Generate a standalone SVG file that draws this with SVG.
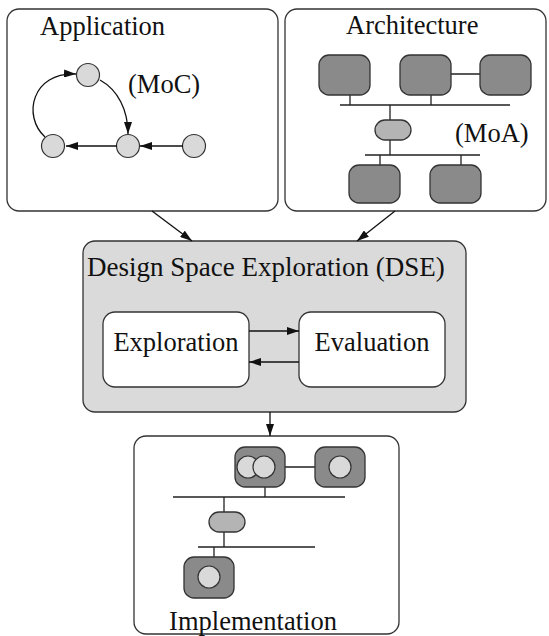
<svg xmlns="http://www.w3.org/2000/svg" width="549" height="636" viewBox="0 0 549 636">
  <style>
    .frame { fill: #ffffff; stroke: #333333; stroke-width: 1.3; }
    .dse { fill: #dadada; stroke: #333333; stroke-width: 1.3; }
    .inner { fill: #ffffff; stroke: #333333; stroke-width: 1.3; }
    .pe { fill: #8a8a8a; stroke: #333333; stroke-width: 1.3; }
    .bridge { fill: #b4b4b4; stroke: #333333; stroke-width: 1.3; }
    .task { fill: #d9d9d9; stroke: #333333; stroke-width: 1.2; }
    .wire { fill: none; stroke: #222222; stroke-width: 1.3; }
    .edge { fill: none; stroke: #111111; stroke-width: 1.3; marker-end: url(#head); }
    text { font-family: "Liberation Serif", "Times New Roman", serif; fill: #111111; font-size: 26.5px; }
    .title { font-size: 27px; }
  </style>
  <defs>
    <marker id="head" viewBox="0 0 12 8" refX="12" refY="4" markerWidth="12" markerHeight="8" markerUnits="userSpaceOnUse" orient="auto">
      <path d="M0,0 L12,4 L0,8 Z" fill="#111111"/>
    </marker>
  </defs>

  <!-- Application: model of computation -->
  <g id="application">
    <rect class="frame" x="7" y="9" width="271" height="202" rx="12"/>
    <text x="40" y="35">Application</text>
    <text x="128" y="93">(MoC)</text>
    <circle class="task" cx="88" cy="75" r="11.5"/>
    <circle class="task" cx="53" cy="146" r="11.5"/>
    <circle class="task" cx="128" cy="146" r="11.5"/>
    <circle class="task" cx="194" cy="146" r="11.5"/>
  </g>

  <!-- Architecture: model of architecture -->
  <g id="architecture">
    <rect class="frame" x="285" y="9" width="261" height="202" rx="12"/>
    <text x="346" y="34">Architecture</text>
    <text x="455" y="142">(MoA)</text>
    <path class="wire" d="M451,74 H480 M340,105 H510 M350,95 V105 M431,95 V105 M390,105 V120 M390,140 V155 M365,155 H480 M380,155 V165 M461,155 V170"/>
    <rect class="pe" x="319" y="55" width="51" height="40" rx="10"/>
    <rect class="pe" x="400" y="55" width="51" height="40" rx="10"/>
    <rect class="pe" x="480" y="55" width="51" height="40" rx="10"/>
    <rect class="bridge" x="375" y="120" width="36" height="20" rx="10"/>
    <rect class="pe" x="349" y="165" width="51" height="38" rx="10"/>
    <rect class="pe" x="430" y="165" width="51" height="38" rx="10"/>
  </g>

  <!-- Design space exploration -->
  <g id="dse">
    <rect class="dse" x="83" y="241" width="383" height="171" rx="12"/>
    <text class="title" x="87" y="276">Design Space Exploration (DSE)</text>
  </g>
  <g id="exploration">
    <rect class="inner" x="103" y="312" width="146" height="75" rx="12"/>
    <text x="176" y="351" text-anchor="middle">Exploration</text>
  </g>
  <g id="evaluation">
    <rect class="inner" x="299" y="312" width="146" height="75" rx="12"/>
    <text x="372" y="351" text-anchor="middle">Evaluation</text>
  </g>

  <!-- Implementation: mapped result -->
  <g id="implementation">
    <rect class="frame" x="134" y="436" width="265" height="198" rx="12"/>
    <text x="253" y="630" text-anchor="middle">Implementation</text>
    <path class="wire" d="M285,467 H315 M173,497 H345 M265,487 V497 M224,497 V512 M224,532 V547 M198,547 H315 M214,547 V557"/>
    <rect class="pe" x="235" y="447" width="50" height="40" rx="10"/>
    <circle class="task" cx="248" cy="467" r="11"/>
    <circle class="task" cx="264" cy="467" r="11"/>
    <rect class="pe" x="315" y="447" width="50" height="40" rx="10"/>
    <circle class="task" cx="340" cy="467" r="11"/>
    <rect class="bridge" x="209" y="512" width="36" height="20" rx="10"/>
    <rect class="pe" x="184" y="557" width="50" height="41" rx="10"/>
    <circle class="task" cx="209" cy="577" r="11"/>
  </g>

  <!-- Connectors -->
  <g id="connectors">
    <path class="edge" d="M183,146 H140"/>
    <path class="edge" d="M117,146 H66"/>
    <path class="edge" d="M45,137 C22,116 32,72 76,74"/>
    <path class="edge" d="M100,80 C118,90 128,110 128,134"/>
    <path class="edge" d="M152,211 L192,241"/>
    <path class="edge" d="M395,211 L357,241"/>
    <path class="edge" d="M249,331 H299"/>
    <path class="edge" d="M299,362 H249"/>
    <path class="edge" d="M270,412 V436"/>
  </g>
</svg>
